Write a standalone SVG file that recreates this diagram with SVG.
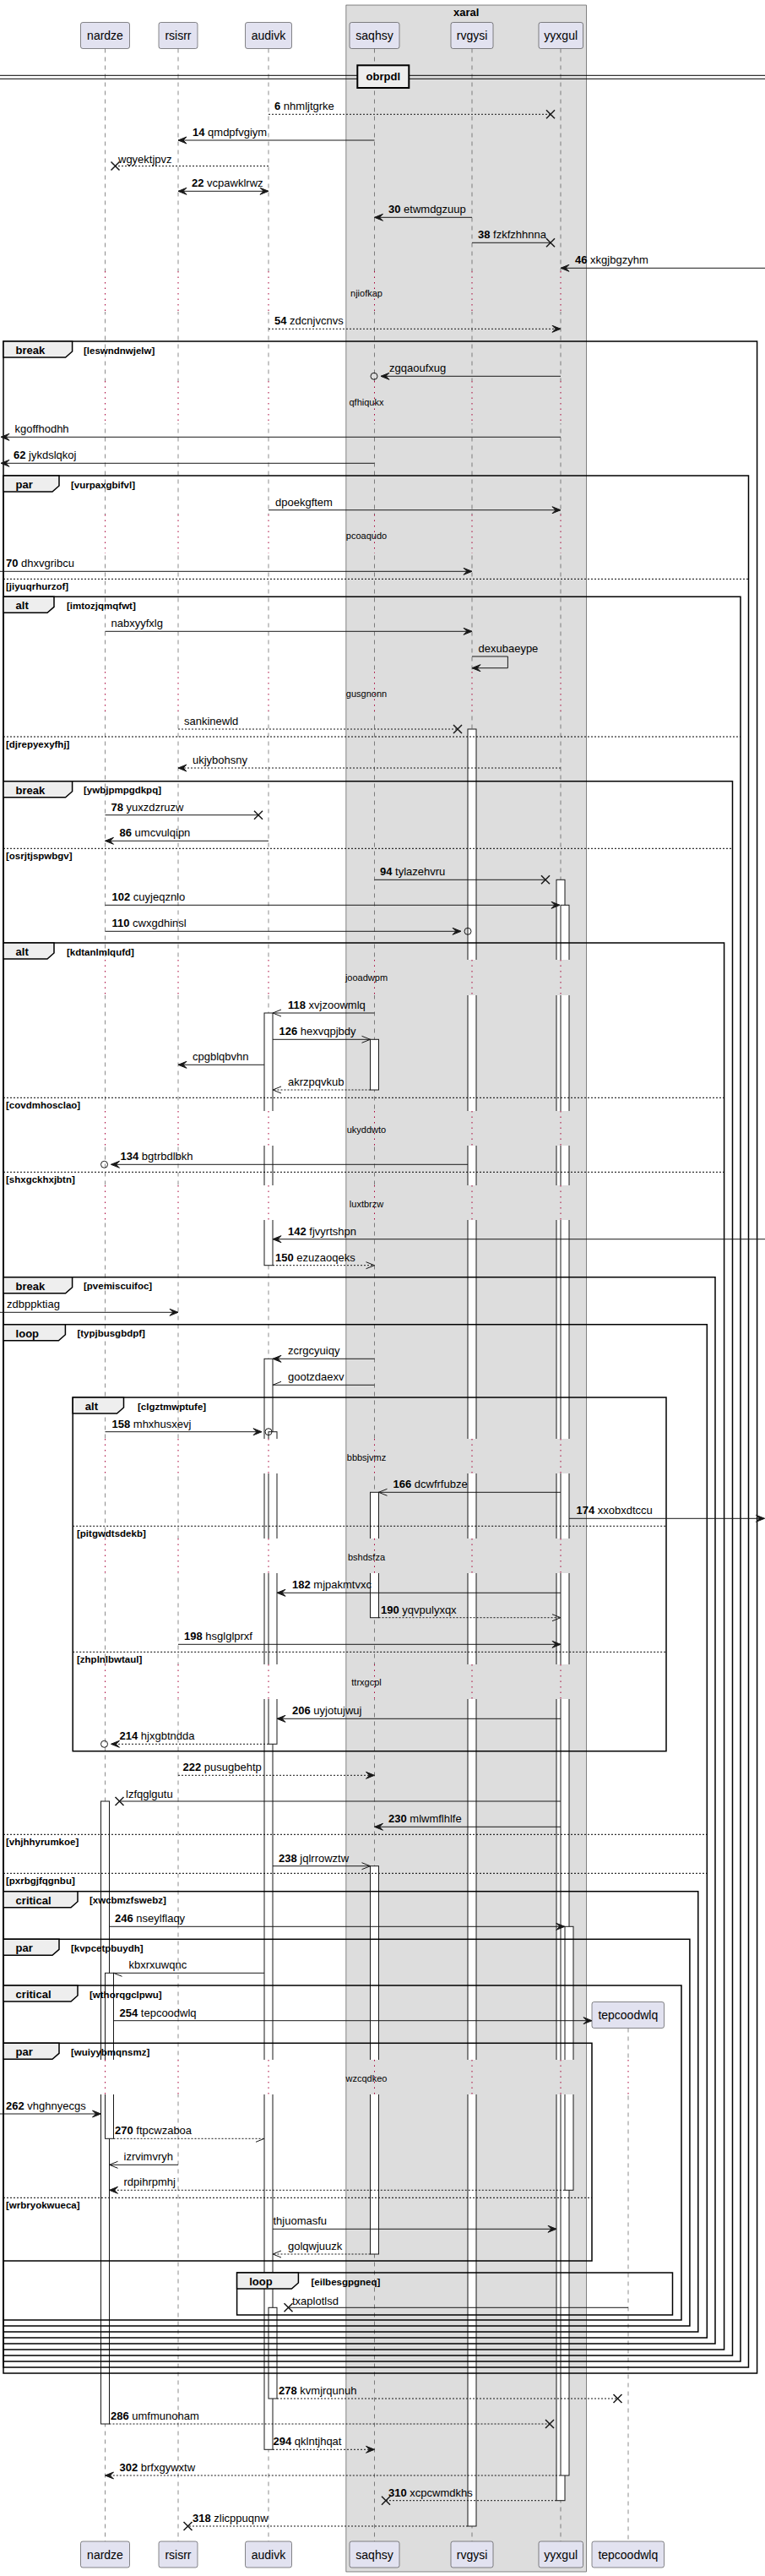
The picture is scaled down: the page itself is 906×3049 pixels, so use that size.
<svg xmlns="http://www.w3.org/2000/svg" width="906" height="3049" viewBox="0 0 906 3049">
<style>
text{font-family:"Liberation Sans",Arial,sans-serif;fill:#000}
.pb{fill:#E2E2F0;stroke:#181818;stroke-width:0.5}
.pn{font-size:14px}
.life{stroke:#181818;stroke-width:0.5;stroke-dasharray:5,5;fill:none}
.act{fill:#fff;stroke:#181818;stroke-width:1}
.bw{fill:#fff;stroke:none}
.bg{fill:#DDDDDD;stroke:none}
.dl{stroke:#A80036;stroke-width:1;stroke-dasharray:1.5,5;fill:none}
.dt{font-size:11px}
.fr{fill:none;stroke:#000;stroke-width:1.5}
.tab{fill:#EEEEEE;stroke:#000;stroke-width:1.5}
.tt{font-size:13px;font-weight:bold}
.cd{font-size:11.5px;font-weight:bold}
.el{stroke:#000;stroke-width:1;stroke-dasharray:2,2;fill:none}
.m{stroke:#181818;stroke-width:1;fill:none}
.d{stroke-dasharray:2,2}
.ml{font-size:13px}
.x{stroke:#181818;stroke-width:1.5;fill:none}
.c{stroke:#181818;stroke-width:1;fill:none}
</style>
<defs>
<marker id="af" viewBox="0 0 10 8" refX="10" refY="4" markerWidth="10" markerHeight="8" markerUnits="userSpaceOnUse" orient="auto-start-reverse" style="overflow:visible"><path d="M0,0 L10,4 L0,8 L4,4 Z" fill="#181818" stroke="#181818" stroke-width="1" stroke-dasharray="none"/></marker>
<marker id="ao" viewBox="0 0 10 8" refX="10" refY="4" markerWidth="10" markerHeight="8" markerUnits="userSpaceOnUse" orient="auto" style="overflow:visible"><path d="M0,0 L10,4 L0,8" fill="none" stroke="#181818" stroke-width="1" stroke-dasharray="none"/></marker>
<marker id="ha" viewBox="0 0 10 8" refX="10" refY="4" markerWidth="10" markerHeight="8" markerUnits="userSpaceOnUse" orient="auto" style="overflow:visible"><path d="M0,0 L10,4" fill="none" stroke="#181818" stroke-width="1" stroke-dasharray="none"/></marker>
<marker id="hb" viewBox="0 0 10 8" refX="10" refY="4" markerWidth="10" markerHeight="8" markerUnits="userSpaceOnUse" orient="auto" style="overflow:visible"><path d="M0,8 L10,4" fill="none" stroke="#181818" stroke-width="1" stroke-dasharray="none"/></marker>
</defs>
<rect x="0" y="0" width="906" height="3049" fill="#fff"/>
<g id="box-xaral">
<rect x="409.9" y="6" width="284.7" height="3038" fill="#DDDDDD" stroke="#181818" stroke-width="0.5"/>
<text x="552.2" y="19" class="tt" text-anchor="middle">xaral</text>
</g>
<g id="lifelines">
<path class="life" d="M124.5,57.5V3008 M211,57.5V3008 M318,57.5V3008 M443.5,57.5V3008 M559,57.5V3008 M664,57.5V3008 M744,2400.5V3008"/>
</g>
<g id="nardze"><rect class="pb" x="95.5" y="26.5" width="58" height="31" rx="2.5"/><text class="pn" x="124.5" y="47" text-anchor="middle">nardze</text><rect class="pb" x="95.5" y="3008" width="58" height="31" rx="2.5"/><text class="pn" x="124.5" y="3028.5" text-anchor="middle">nardze</text></g>
<g id="rsisrr"><rect class="pb" x="188" y="26.5" width="46" height="31" rx="2.5"/><text class="pn" x="211" y="47" text-anchor="middle">rsisrr</text><rect class="pb" x="188" y="3008" width="46" height="31" rx="2.5"/><text class="pn" x="211" y="3028.5" text-anchor="middle">rsisrr</text></g>
<g id="audivk"><rect class="pb" x="290.5" y="26.5" width="55" height="31" rx="2.5"/><text class="pn" x="318" y="47" text-anchor="middle">audivk</text><rect class="pb" x="290.5" y="3008" width="55" height="31" rx="2.5"/><text class="pn" x="318" y="3028.5" text-anchor="middle">audivk</text></g>
<g id="saqhsy"><rect class="pb" x="414" y="26.5" width="59" height="31" rx="2.5"/><text class="pn" x="443.5" y="47" text-anchor="middle">saqhsy</text><rect class="pb" x="414" y="3008" width="59" height="31" rx="2.5"/><text class="pn" x="443.5" y="3028.5" text-anchor="middle">saqhsy</text></g>
<g id="rvgysi"><rect class="pb" x="534" y="26.5" width="50" height="31" rx="2.5"/><text class="pn" x="559" y="47" text-anchor="middle">rvgysi</text><rect class="pb" x="534" y="3008" width="50" height="31" rx="2.5"/><text class="pn" x="559" y="3028.5" text-anchor="middle">rvgysi</text></g>
<g id="yyxgul"><rect class="pb" x="638" y="26.5" width="52.5" height="31" rx="2.5"/><text class="pn" x="664.2" y="47" text-anchor="middle">yyxgul</text><rect class="pb" x="638" y="3008" width="52.5" height="31" rx="2.5"/><text class="pn" x="664.2" y="3028.5" text-anchor="middle">yyxgul</text></g>
<g id="tepcoodwlq"><rect class="pb" x="701" y="2369.5" width="85.5" height="31" rx="2.5"/><text class="pn" x="743.8" y="2390" text-anchor="middle">tepcoodwlq</text><rect class="pb" x="701" y="3008" width="85.5" height="31" rx="2.5"/><text class="pn" x="743.8" y="3028.5" text-anchor="middle">tepcoodwlq</text></g>
<g id="activations">
<rect class="act" x="554" y="863" width="10" height="2127"/>
<rect class="act" x="659" y="1041.3" width="10" height="1918.4"/>
<rect class="act" x="664" y="1071.3" width="10" height="1858.7"/>
<rect class="act" x="669" y="2280.3" width="10" height="312"/>
<rect class="act" x="313" y="1199" width="10" height="298.7"/>
<rect class="act" x="313" y="1608.3" width="10" height="1291"/>
<rect class="act" x="318" y="1694.7" width="10" height="369.6"/>
<rect class="act" x="318" y="2731.3" width="10" height="107.7"/>
<rect class="act" x="438.5" y="1230.3" width="10" height="59.7"/>
<rect class="act" x="438.5" y="1766.3" width="10" height="148.4"/>
<rect class="act" x="438.5" y="2208.7" width="10" height="459.3"/>
<rect class="act" x="119.5" y="2132" width="10" height="737"/>
<rect class="act" x="124.5" y="2335.3" width="10" height="196"/>
</g>
<g id="delays">
<path class="bw" d="M114,321h24V369h-24Z M201,321h20V369h-20Z M308,321h24V369h-24Z M114,451h24V501h-24Z M201,451h20V501h-20Z M308,451h24V501h-24Z M114,609h24V655h-24Z M201,609h20V655h-20Z M308,609h24V655h-24Z M114,795h24V842h-24Z M201,795h20V842h-20Z M308,795h24V842h-24Z M114,1136h24V1178h-24Z M201,1136h20V1178h-20Z M308,1136h24V1178h-24Z M114,1315h24V1356h-24Z M201,1315h20V1356h-20Z M308,1315h24V1356h-24Z M114,1403h24V1444h-24Z M201,1403h20V1444h-20Z M308,1403h24V1444h-24Z M114,1703h24V1744h-24Z M201,1703h20V1744h-20Z M308,1703h24V1744h-24Z M114,1821h24V1862h-24Z M201,1821h20V1862h-20Z M308,1821h24V1862h-24Z M114,1970h24V2011h-24Z M201,1970h20V2011h-20Z M308,1970h24V2011h-24Z M114,2438h24V2479h-24Z M201,2438h20V2479h-20Z M308,2438h24V2479h-24Z M734,2438h20V2479h-20Z"/>
<path class="bg" d="M433,321h20V369h-20Z M549,321h20V369h-20Z M654,321h30V369h-30Z M433,451h20V501h-20Z M549,451h20V501h-20Z M654,451h30V501h-30Z M433,609h20V655h-20Z M549,609h20V655h-20Z M654,609h30V655h-30Z M433,795h20V842h-20Z M549,795h20V842h-20Z M654,795h30V842h-30Z M433,1136h20V1178h-20Z M549,1136h20V1178h-20Z M654,1136h30V1178h-30Z M433,1315h20V1356h-20Z M549,1315h20V1356h-20Z M654,1315h30V1356h-30Z M433,1403h20V1444h-20Z M549,1403h20V1444h-20Z M654,1403h30V1444h-30Z M433,1703h20V1744h-20Z M549,1703h20V1744h-20Z M654,1703h30V1744h-30Z M433,1821h20V1862h-20Z M549,1821h20V1862h-20Z M654,1821h30V1862h-30Z M433,1970h20V2011h-20Z M549,1970h20V2011h-20Z M654,1970h30V2011h-30Z M433,2438h20V2479h-20Z M549,2438h20V2479h-20Z M654,2438h30V2479h-30Z"/>
<path class="dl" d="M124.5,321V369M211,321V369M318,321V369M443.5,321V369M559,321V369M664,321V369 M124.5,451V501M211,451V501M318,451V501M443.5,451V501M559,451V501M664,451V501 M124.5,609V655M211,609V655M318,609V655M443.5,609V655M559,609V655M664,609V655 M124.5,795V842M211,795V842M318,795V842M443.5,795V842M559,795V842M664,795V842 M124.5,1136V1178M211,1136V1178M318,1136V1178M443.5,1136V1178M559,1136V1178M664,1136V1178 M124.5,1315V1356M211,1315V1356M318,1315V1356M443.5,1315V1356M559,1315V1356M664,1315V1356 M124.5,1403V1444M211,1403V1444M318,1403V1444M443.5,1403V1444M559,1403V1444M664,1403V1444 M124.5,1703V1744M211,1703V1744M318,1703V1744M443.5,1703V1744M559,1703V1744M664,1703V1744 M124.5,1821V1862M211,1821V1862M318,1821V1862M443.5,1821V1862M559,1821V1862M664,1821V1862 M124.5,1970V2011M211,1970V2011M318,1970V2011M443.5,1970V2011M559,1970V2011M664,1970V2011 M124.5,2438V2479M211,2438V2479M318,2438V2479M443.5,2438V2479M559,2438V2479M664,2438V2479M744,2438V2479"/>
<g class="dt" text-anchor="middle">
<text class="dt" x="434" y="351">njiofkap</text>
<text class="dt" x="434" y="479.7">qfhiqukx</text>
<text class="dt" x="434" y="637.7">pcoaqudo</text>
<text class="dt" x="434" y="824.7">gusgnonn</text>
<text class="dt" x="434" y="1161.3">jooadwpm</text>
<text class="dt" x="434" y="1340.7">ukyddwto</text>
<text class="dt" x="434" y="1429">luxtbrzw</text>
<text class="dt" x="434" y="1728.7">bbbsjvmz</text>
<text class="dt" x="434" y="1847.3">bshdsfza</text>
<text class="dt" x="434" y="1995.3">ttrxgcpl</text>
<text class="dt" x="434" y="2463.7">wzcqdkeo</text>
</g>
</g>
<g id="separator-obrpdl">
<path d="M0,89.3H906 M0,93.3H906" stroke="#000" stroke-width="1" fill="none"/>
<rect x="423.3" y="77.3" width="61" height="26.7" fill="#EEEEEE" stroke="#000" stroke-width="2"/>
<text class="tt" x="453.8" y="95" text-anchor="middle">obrpdl</text>
</g>
<g id="fragments">
<rect class="fr" x="4" y="404" width="892.6" height="2405"/>
<path class="tab" d="M4,404 H85.6 V416 L77.6,423 H4 Z"/><text class="tt" x="18.6" y="419">break</text><text class="cd" x="99" y="418.5">[leswndnwjelw]</text>
<rect class="fr" x="4" y="563" width="882.5" height="2239"/>
<path class="tab" d="M4,563 H70 V575 L62,582 H4 Z"/><text class="tt" x="18.6" y="578">par</text><text class="cd" x="84" y="577.5">[vurpaxgbifvl]</text>
<path class="el" d="M4,685.3H886.5"/><text class="cd" x="7" y="698.3">[jiyuqrhurzof]</text>
<rect class="fr" x="4" y="706.3" width="873" height="2088.7"/>
<path class="tab" d="M4,706.3 H64 V718.3 L56,725.3 H4 Z"/><text class="tt" x="18.6" y="721.3">alt</text><text class="cd" x="79" y="720.8">[imtozjqmqfwt]</text>
<path class="el" d="M4,872H877"/><text class="cd" x="7" y="885">[djrepyexyfhj]</text>
<rect class="fr" x="4" y="924.7" width="863.5" height="1863.3"/>
<path class="tab" d="M4,924.7 H85.6 V936.7 L77.6,943.7 H4 Z"/><text class="tt" x="18.6" y="939.7">break</text><text class="cd" x="99" y="939.2">[ywbjpmpgdkpq]</text>
<path class="el" d="M4,1004.3H867.5"/><text class="cd" x="7" y="1017.3">[osrjtjspwbgv]</text>
<rect class="fr" x="4" y="1116" width="853.6" height="1665"/>
<path class="tab" d="M4,1116 H64 V1128 L56,1135 H4 Z"/><text class="tt" x="18.6" y="1131">alt</text><text class="cd" x="79" y="1130.5">[kdtanlmlqufd]</text>
<path class="el" d="M4,1299.3H857.6"/><text class="cd" x="7" y="1312.3">[covdmhosclao]</text>
<path class="el" d="M4,1387.3H857.6"/><text class="cd" x="7" y="1400.3">[shxgckhxjbtn]</text>
<rect class="fr" x="4" y="1511.7" width="843" height="1262.3"/>
<path class="tab" d="M4,1511.7 H85.6 V1523.7 L77.6,1530.7 H4 Z"/><text class="tt" x="18.6" y="1526.7">break</text><text class="cd" x="99" y="1526.2">[pvemiscuifoc]</text>
<rect class="fr" x="4" y="1567.7" width="833.3" height="1199.3"/>
<path class="tab" d="M4,1567.7 H77.4 V1579.7 L69.4,1586.7 H4 Z"/><text class="tt" x="18.6" y="1582.7">loop</text><text class="cd" x="91.4" y="1582.2">[typjbusgbdpf]</text>
<rect class="fr" x="86.2" y="1654" width="702.8" height="418.7"/>
<path class="tab" d="M86.2,1654 H146.5 V1666 L138.5,1673 H86.2 Z"/><text class="tt" x="100.8" y="1669">alt</text><text class="cd" x="163" y="1668.5">[clgztmwptufe]</text>
<path class="el" d="M86.2,1806.3H789"/><text class="cd" x="91" y="1819.3">[pitgwdtsdekb]</text>
<path class="el" d="M86.2,1955.3H789"/><text class="cd" x="91" y="1968.3">[zhplnlbwtaul]</text>
<path class="el" d="M4,2171.3H837.3"/><text class="cd" x="7" y="2184.3">[vhjhhyrumkoe]</text>
<path class="el" d="M4,2217.3H837.3"/><text class="cd" x="7" y="2230.3">[pxrbgjfqgnbu]</text>
<rect class="fr" x="4" y="2238.7" width="822.8" height="521.3"/>
<path class="tab" d="M4,2238.7 H92 V2250.7 L84,2257.7 H4 Z"/><text class="tt" x="18.6" y="2253.7">critical</text><text class="cd" x="106" y="2253.2">[xwcbmzfswebz]</text>
<rect class="fr" x="4" y="2295.3" width="812.9" height="457.7"/>
<path class="tab" d="M4,2295.3 H70 V2307.3 L62,2314.3 H4 Z"/><text class="tt" x="18.6" y="2310.3">par</text><text class="cd" x="84" y="2309.8">[kvpcetpbuydh]</text>
<rect class="fr" x="4" y="2350" width="803" height="396"/>
<path class="tab" d="M4,2350 H92 V2362 L84,2369 H4 Z"/><text class="tt" x="18.6" y="2365">critical</text><text class="cd" x="106" y="2364.5">[wthorqgclpwu]</text>
<rect class="fr" x="4" y="2418.3" width="697" height="257.7"/>
<path class="tab" d="M4,2418.3 H70 V2430.3 L62,2437.3 H4 Z"/><text class="tt" x="18.6" y="2433.3">par</text><text class="cd" x="84" y="2432.8">[wuiyybmqnsmz]</text>
<path class="el" d="M4,2601.3H701"/><text class="cd" x="7" y="2614.3">[wrbryokwueca]</text>
<rect class="fr" x="280.6" y="2690" width="515.9" height="50"/>
<path class="tab" d="M280.6,2690 H353.4 V2702 L345.4,2709 H280.6 Z"/><text class="tt" x="295.2" y="2705">loop</text><text class="cd" x="368.5" y="2704.5">[eilbesgpgneq]</text>
</g>
<g id="connectors">
<line class="m d" x1="318" y1="135.3" x2="652" y2="135.3"/><path class="x" d="M647,130.3 L657,140.3 M647,140.3 L657,130.3"/><text class="ml" x="325" y="130"><tspan font-weight="bold">6</tspan> nhmljtgrke</text>
<line class="m" x1="443.5" y1="166" x2="211" y2="166" marker-end="url(#af)"/><text class="ml" x="228" y="161"><tspan font-weight="bold">14</tspan> qmdpfvgiym</text>
<line class="m d" x1="318" y1="196.5" x2="136.5" y2="196.5"/><path class="x" d="M131.5,191.5 L141.5,201.5 M131.5,201.5 L141.5,191.5"/><text class="ml" x="140" y="193">wgyektjpvz</text>
<line class="m" x1="211" y1="226.3" x2="318" y2="226.3" marker-start="url(#af)" marker-end="url(#af)"/><text class="ml" x="227" y="221"><tspan font-weight="bold">22</tspan> vcpawklrwz</text>
<line class="m" x1="559" y1="257.3" x2="443.5" y2="257.3" marker-end="url(#af)"/><text class="ml" x="460" y="252"><tspan font-weight="bold">30</tspan> etwmdgzuup</text>
<line class="m" x1="559" y1="287.3" x2="652" y2="287.3"/><path class="x" d="M647,282.3 L657,292.3 M647,292.3 L657,282.3"/><text class="ml" x="566" y="282"><tspan font-weight="bold">38</tspan> fzkfzhhnna</text>
<line class="m" x1="906" y1="317.3" x2="664" y2="317.3" marker-end="url(#af)"/><text class="ml" x="681" y="312"><tspan font-weight="bold">46</tspan> xkgjbgzyhm</text>
<line class="m d" x1="318" y1="389.3" x2="664" y2="389.3" marker-end="url(#af)"/><text class="ml" x="325" y="384"><tspan font-weight="bold">54</tspan> zdcnjvcnvs</text>
<line class="m" x1="664" y1="445.3" x2="451" y2="445.3" marker-end="url(#af)"/><circle class="c" cx="443" cy="445.3" r="4"/><text class="ml" x="461" y="440">zgqaoufxug</text>
<line class="m" x1="664" y1="517.3" x2="1" y2="517.3" marker-end="url(#af)"/><text class="ml" x="17.5" y="512">kgoffhodhh</text>
<line class="m" x1="443.5" y1="548.3" x2="1" y2="548.3" marker-end="url(#af)"/><text class="ml" x="16" y="543"><tspan font-weight="bold">62</tspan> jykdslqkoj</text>
<line class="m" x1="318" y1="603.7" x2="664" y2="603.7" marker-end="url(#af)"/><text class="ml" x="326" y="598.5">dpoekgftem</text>
<line class="m" x1="0" y1="676.3" x2="559" y2="676.3" marker-end="url(#af)"/><text class="ml" x="7" y="671"><tspan font-weight="bold">70</tspan> dhxvgribcu</text>
<line class="m" x1="124.5" y1="747.3" x2="559" y2="747.3" marker-end="url(#af)"/><text class="ml" x="131.5" y="742">nabxyyfxlg</text>
<polyline class="m" points="559,777 601.4,777 601.4,790.7 559,790.7" marker-end="url(#af)"/><text class="ml" x="566.5" y="772">dexubaeype</text>
<line class="m d" x1="211" y1="863" x2="542" y2="863"/><path class="x" d="M537,858 L547,868 M537,868 L547,858"/><text class="ml" x="218" y="858">sankinewld</text>
<line class="m d" x1="664" y1="909" x2="211" y2="909" marker-end="url(#af)"/><text class="ml" x="228" y="904">ukjybohsny</text>
<line class="m" x1="124.5" y1="964.7" x2="306" y2="964.7"/><path class="x" d="M301,959.7 L311,969.7 M301,969.7 L311,959.7"/><text class="ml" x="131.5" y="959.5"><tspan font-weight="bold">78</tspan> yuxzdzruzw</text>
<line class="m" x1="318" y1="995.3" x2="124.5" y2="995.3" marker-end="url(#af)"/><text class="ml" x="141.5" y="990"><tspan font-weight="bold">86</tspan> umcvulqipn</text>
<line class="m" x1="443.5" y1="1041.3" x2="646" y2="1041.3"/><path class="x" d="M641,1036.3 L651,1046.3 M641,1046.3 L651,1036.3"/><text class="ml" x="450" y="1036"><tspan font-weight="bold">94</tspan> tylazehvru</text>
<line class="m" x1="124.5" y1="1071.3" x2="663" y2="1071.3" marker-end="url(#af)"/><text class="ml" x="132.5" y="1066"><tspan font-weight="bold">102</tspan> cuyjeqznlo</text>
<line class="m" x1="124.5" y1="1102.3" x2="546" y2="1102.3" marker-end="url(#af)"/><circle class="c" cx="554" cy="1102.3" r="4"/><text class="ml" x="132.5" y="1097"><tspan font-weight="bold">110</tspan> cwxgdhinsl</text>
<line class="m" x1="443.5" y1="1199" x2="323" y2="1199" marker-end="url(#ao)"/><text class="ml" x="341" y="1194"><tspan font-weight="bold">118</tspan> xvjzoowmlq</text>
<line class="m" x1="323" y1="1230.3" x2="438.5" y2="1230.3" marker-end="url(#ao)"/><text class="ml" x="330.5" y="1225"><tspan font-weight="bold">126</tspan> hexvqpjbdy</text>
<line class="m" x1="313" y1="1260.3" x2="211" y2="1260.3" marker-end="url(#af)"/><text class="ml" x="228" y="1255">cpgblqbvhn</text>
<line class="m d" x1="438.5" y1="1290" x2="323" y2="1290" marker-end="url(#ao)"/><text class="ml" x="341" y="1285">akrzpqvkub</text>
<line class="m" x1="554" y1="1378.3" x2="131.5" y2="1378.3" marker-end="url(#af)"/><circle class="c" cx="123.5" cy="1378.3" r="4"/><text class="ml" x="142.5" y="1373"><tspan font-weight="bold">134</tspan> bgtrbdlbkh</text>
<line class="m" x1="906" y1="1466.7" x2="323" y2="1466.7" marker-end="url(#af)"/><text class="ml" x="341" y="1461.5"><tspan font-weight="bold">142</tspan> fjvyrtshpn</text>
<line class="m d" x1="323" y1="1497.7" x2="443.5" y2="1497.7" marker-end="url(#ao)"/><text class="ml" x="326" y="1492.5"><tspan font-weight="bold">150</tspan> ezuzaoqeks</text>
<line class="m" x1="0" y1="1553.3" x2="211" y2="1553.3" marker-end="url(#af)"/><text class="ml" x="8" y="1548">zdbppktiag</text>
<line class="m" x1="443.5" y1="1608.3" x2="323" y2="1608.3" marker-end="url(#af)"/><text class="ml" x="341" y="1603">zcrgcyuiqy</text>
<line class="m" x1="443.5" y1="1639.3" x2="323" y2="1639.3" marker-end="url(#hb)"/><text class="ml" x="341" y="1634">gootzdaexv</text>
<line class="m" x1="124.5" y1="1694.7" x2="310" y2="1694.7" marker-end="url(#af)"/><circle class="c" cx="318" cy="1694.7" r="4"/><text class="ml" x="132.5" y="1689.5"><tspan font-weight="bold">158</tspan> mhxhusxevj</text>
<line class="m" x1="664" y1="1766.3" x2="448.5" y2="1766.3" marker-end="url(#ao)"/><text class="ml" x="465.5" y="1761"><tspan font-weight="bold">166</tspan> dcwfrfubze</text>
<line class="m" x1="674" y1="1797.3" x2="905.5" y2="1797.3" marker-end="url(#af)"/><text class="ml" x="682.5" y="1792"><tspan font-weight="bold">174</tspan> xxobxdtccu</text>
<line class="m" x1="664" y1="1885.3" x2="328" y2="1885.3" marker-end="url(#af)"/><text class="ml" x="346" y="1880"><tspan font-weight="bold">182</tspan> mjpakmtvxc</text>
<line class="m d" x1="448.5" y1="1914.7" x2="664" y2="1914.7" marker-end="url(#ao)"/><text class="ml" x="451" y="1909.5"><tspan font-weight="bold">190</tspan> yqvpulyxqx</text>
<line class="m" x1="211" y1="1946.3" x2="664" y2="1946.3" marker-end="url(#af)"/><text class="ml" x="218" y="1941"><tspan font-weight="bold">198</tspan> hsglglprxf</text>
<line class="m" x1="664" y1="2034.3" x2="328" y2="2034.3" marker-end="url(#af)"/><text class="ml" x="346" y="2029"><tspan font-weight="bold">206</tspan> uyjotujwuj</text>
<line class="m d" x1="318" y1="2064.3" x2="131.5" y2="2064.3" marker-end="url(#af)"/><circle class="c" cx="123.5" cy="2064.3" r="4"/><text class="ml" x="141.5" y="2059"><tspan font-weight="bold">214</tspan> hjxgbtndda</text>
<line class="m d" x1="211" y1="2101.3" x2="443.5" y2="2101.3" marker-end="url(#af)"/><text class="ml" x="216.5" y="2096"><tspan font-weight="bold">222</tspan> pusugbehtp</text>
<line class="m" x1="664" y1="2132" x2="141.5" y2="2132"/><path class="x" d="M136.5,2127 L146.5,2137 M136.5,2137 L146.5,2127"/><text class="ml" x="149" y="2128">lzfqglgutu</text>
<line class="m" x1="664" y1="2162.3" x2="443.5" y2="2162.3" marker-end="url(#af)"/><text class="ml" x="460" y="2157"><tspan font-weight="bold">230</tspan> mlwmflhlfe</text>
<line class="m" x1="323" y1="2208.7" x2="438.5" y2="2208.7" marker-end="url(#ao)"/><text class="ml" x="330" y="2203.5"><tspan font-weight="bold">238</tspan> jqlrrowztw</text>
<line class="m" x1="129.5" y1="2280.3" x2="668.8" y2="2280.3" marker-end="url(#af)"/><text class="ml" x="136" y="2275"><tspan font-weight="bold">246</tspan> nseylflaqy</text>
<line class="m" x1="313" y1="2335.3" x2="134.5" y2="2335.3" marker-end="url(#ha)"/><text class="ml" x="152.5" y="2330">kbxrxuwqnc</text>
<line class="m" x1="134.5" y1="2391.7" x2="701" y2="2391.7" marker-end="url(#af)"/><text class="ml" x="141.5" y="2386.5"><tspan font-weight="bold">254</tspan> tepcoodwlq</text>
<line class="m" x1="0" y1="2502" x2="119.5" y2="2502" marker-end="url(#af)"/><text class="ml" x="7" y="2497"><tspan font-weight="bold">262</tspan> vhghnyecgs</text>
<line class="m d" x1="134.5" y1="2531.3" x2="313" y2="2531.3" marker-end="url(#hb)"/><text class="ml" x="136" y="2526"><tspan font-weight="bold">270</tspan> ftpcwzaboa</text>
<line class="m" x1="211" y1="2562.3" x2="129.5" y2="2562.3" marker-end="url(#ao)"/><text class="ml" x="146.5" y="2557">izrvimvryh</text>
<line class="m d" x1="668.8" y1="2592.3" x2="129.5" y2="2592.3" marker-end="url(#af)"/><text class="ml" x="146.5" y="2587">rdpihrpmhj</text>
<line class="m" x1="323" y1="2638.3" x2="659" y2="2638.3" marker-end="url(#af)"/><text class="ml" x="323.5" y="2633">thjuomasfu</text>
<line class="m d" x1="438.5" y1="2668" x2="323" y2="2668" marker-end="url(#ao)"/><text class="ml" x="341" y="2663">golqwjuuzk</text>
<line class="m" x1="744" y1="2731.3" x2="341.5" y2="2731.3"/><path class="x" d="M336.5,2726.3 L346.5,2736.3 M336.5,2736.3 L346.5,2726.3"/><text class="ml" x="346" y="2727.5">txaplotlsd</text>
<line class="m d" x1="328" y1="2839" x2="731.5" y2="2839"/><path class="x" d="M726.5,2834 L736.5,2844 M726.5,2844 L736.5,2834"/><text class="ml" x="330" y="2834"><tspan font-weight="bold">278</tspan> kvmjrqunuh</text>
<line class="m d" x1="129.5" y1="2869" x2="651" y2="2869"/><path class="x" d="M646,2864 L656,2874 M646,2874 L656,2864"/><text class="ml" x="131" y="2864"><tspan font-weight="bold">286</tspan> umfmunoham</text>
<line class="m d" x1="323" y1="2899.3" x2="443.5" y2="2899.3" marker-end="url(#af)"/><text class="ml" x="323.5" y="2894"><tspan font-weight="bold">294</tspan> qklntjhqat</text>
<line class="m d" x1="663.8" y1="2930" x2="124.5" y2="2930" marker-end="url(#af)"/><text class="ml" x="141.5" y="2925"><tspan font-weight="bold">302</tspan> brfxgywxtw</text>
<line class="m d" x1="659" y1="2959.7" x2="457" y2="2959.7"/><path class="x" d="M452,2954.7 L462,2964.7 M452,2964.7 L462,2954.7"/><text class="ml" x="460" y="2955"><tspan font-weight="bold">310</tspan> xcpcwmdkhs</text>
<line class="m d" x1="554" y1="2990" x2="222.5" y2="2990"/><path class="x" d="M217.5,2985 L227.5,2995 M217.5,2995 L227.5,2985"/><text class="ml" x="228" y="2985"><tspan font-weight="bold">318</tspan> zlicppuqnw</text>
</g>
</svg>
